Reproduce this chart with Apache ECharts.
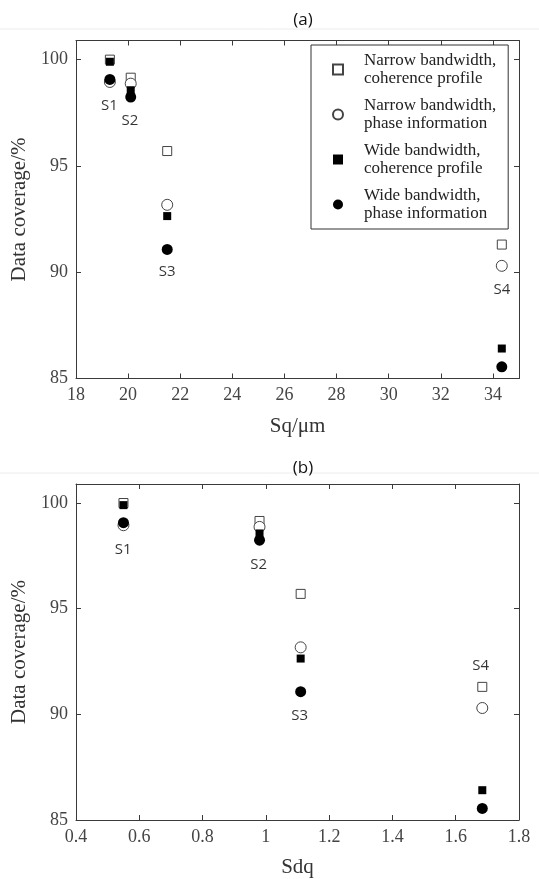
<!DOCTYPE html>
<html>
<head>
<meta charset="UTF-8">
<title>Data coverage</title>
<script src="https://cdn.jsdelivr.net/npm/echarts@6/dist/echarts.min.js"></script>
</head>
<body style="margin:0;background:#fff;">
<div id="main" style="width:539px;height:879px;"></div>
<script type="text/javascript">
// sample values, same for both panels
var samples = ['S1', 'S2', 'S3', 'S4'];
var sqValues = [19.3, 20.1, 21.5, 34.34];
var sdqValues = [0.55, 0.98, 1.11, 1.684];
var seriesNames = [
    'Narrow bandwidth,\ncoherence profile',
    'Narrow bandwidth,\nphase information',
    'Wide bandwidth,\ncoherence profile',
    'Wide bandwidth,\nphase information'
];
var narrowCoherence = [100.0, 99.15, 95.7, 91.3];
var narrowPhase = [98.95, 98.87, 93.17, 90.3];
var wideCoherence = [99.9, 98.56, 92.64, 86.41];
var widePhase = [99.07, 98.24, 91.07, 85.55];
// where the sample labels sit (data coords)
var labelPosA = [[19.28, 97.85], [20.07, 97.12], [21.5, 90.02], [34.34, 89.16]];
var labelPosB = [[0.549, 97.8], [0.977, 97.09], [1.107, 89.95], [1.679, 92.3]];
var xTicksA = {min: 18, max: 35, interval: 2};
var xTicksB = {min: 0.4, max: 1.8, interval: 0.2};
var yTicks = {min: 85, max: 100.9, interval: 5};

var serif = '"Liberation Serif", "DejaVu Serif", serif';
var sans = '"Open Sans", "Noto Sans", sans-serif';
var axisColor = '#3a3a3a';

var myChart = echarts.init(document.getElementById('main'));

function pairs(xs, ys) {
    var out = [];
    for (var i = 0; i < xs.length; i++) out.push([xs[i], ys[i]]);
    return out;
}

function makeX(grid, t, pos, name, showMax) {
    return {
        type: 'value', gridIndex: grid, position: pos,
        min: t.min, max: t.max, interval: t.interval,
        name: name, nameLocation: 'middle', nameGap: 37,
        nameTextStyle: {fontFamily: serif, fontSize: 21, color: '#333'},
        axisLine: {show: true, onZero: false, lineStyle: {color: axisColor, width: 1}},
        axisTick: {show: true, inside: true, length: 5, lineStyle: {color: axisColor}},
        axisLabel: {show: pos === 'bottom', showMaxLabel: showMax, margin: 8,
            fontFamily: serif, fontSize: 18, color: '#444'},
        splitLine: {show: false}
    };
}

function makeY(grid, pos, name) {
    return {
        type: 'value', gridIndex: grid, position: pos,
        min: yTicks.min, max: yTicks.max, interval: yTicks.interval,
        name: name, nameLocation: 'middle', nameGap: 41,
        nameTextStyle: {fontFamily: serif, fontSize: 21, color: '#333'},
        axisLine: {show: true, onZero: false, lineStyle: {color: axisColor, width: 1}},
        axisTick: {show: true, inside: true, length: 5, lineStyle: {color: axisColor}},
        axisLabel: {show: pos === 'left', showMaxLabel: false, margin: 8,
            fontFamily: serif, fontSize: 18, color: '#444'},
        splitLine: {show: false}
    };
}

var styles = [
    {symbol: 'rect', size: 9, color: '#fff', border: '#444', bw: 1},
    {symbol: 'circle', size: 11, color: '#fff', border: '#444', bw: 1},
    {symbol: 'rect', size: 8, color: '#000', border: '#000', bw: 0},
    {symbol: 'circle', size: 11, color: '#000', border: '#000', bw: 0}
];
var valueSets = [narrowCoherence, narrowPhase, wideCoherence, widePhase];

var series = [];
[sqValues, sdqValues].forEach(function (xs, g) {
    valueSets.forEach(function (vals, k) {
        var s = styles[k];
        series.push({
            name: seriesNames[k], type: 'scatter',
            xAxisIndex: g * 2, yAxisIndex: g * 2,
            symbol: s.symbol, symbolSize: s.size,
            itemStyle: {color: s.color, borderColor: s.border, borderWidth: s.bw, opacity: 1},
            emphasis: {disabled: true},
            data: pairs(xs, vals)
        });
    });
    var pos = g === 0 ? labelPosA : labelPosB;
    series.push({
        type: 'scatter', xAxisIndex: g * 2, yAxisIndex: g * 2,
        symbolSize: 0, silent: true,
        label: {show: true, position: 'inside', formatter: '{b}',
            fontFamily: sans, fontSize: 15, color: '#000'},
        data: pos.map(function (p, i) { return {name: samples[i], value: p}; })
    });
});

myChart.setOption({
    animation: false,
    backgroundColor: '#fff',
    title: [
        {text: '(a)', left: 298, top: 7, textAlign: 'center',
            textStyle: {fontFamily: sans, fontSize: 17, fontWeight: 'normal', color: '#111'}},
        {text: '(b)', left: 298, top: 455, textAlign: 'center',
            textStyle: {fontFamily: sans, fontSize: 17, fontWeight: 'normal', color: '#111'}}
    ],
    grid: [
        {left: 76, top: 40.5, width: 443, height: 338},
        {left: 76, top: 484, width: 443, height: 339}
    ],
    legend: {
        orient: 'vertical', left: 311, top: 45,
        padding: [6, 12, 6, 21], itemGap: 8,
        itemWidth: 10, itemHeight: 10,
        borderColor: '#333', borderWidth: 1, backgroundColor: '#fff',
        selectedMode: false,
        data: seriesNames,
        textStyle: {fontFamily: serif, fontSize: 17, lineHeight: 18.5, color: '#222',
            padding: [0, 0, 0, 16]}
    },
    xAxis: [
        makeX(0, xTicksA, 'bottom', 'Sq/μm', false),
        makeX(0, xTicksA, 'top', '', false),
        makeX(1, xTicksB, 'bottom', 'Sdq', true),
        makeX(1, xTicksB, 'top', '', false)
    ],
    yAxis: [
        makeY(0, 'left', 'Data coverage/%'),
        makeY(0, 'right', ''),
        makeY(1, 'left', 'Data coverage/%'),
        makeY(1, 'right', '')
    ],
    graphic: [
        {type: 'line', shape: {x1: 0, y1: 29, x2: 539, y2: 29}, style: {stroke: '#ececec', lineWidth: 1}},
        {type: 'line', shape: {x1: 0, y1: 473, x2: 539, y2: 473}, style: {stroke: '#ececec', lineWidth: 1}}
    ],
    series: series
});
</script>
</body>
</html>
